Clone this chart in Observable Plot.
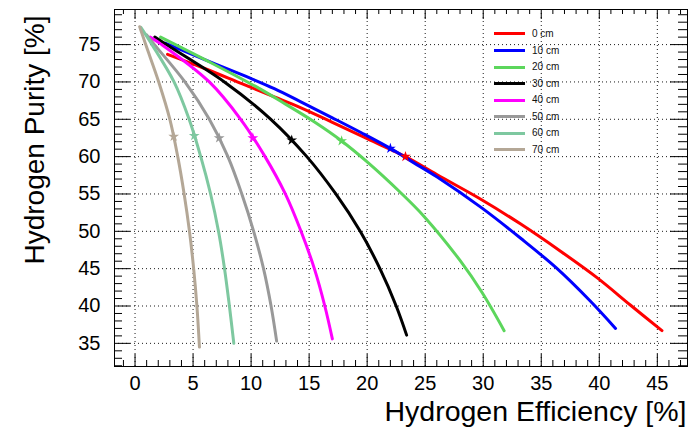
<!DOCTYPE html>
<html><head><meta charset="utf-8">
<script src="https://cdn.jsdelivr.net/npm/d3@7"></script>
<script src="https://cdn.jsdelivr.net/npm/@observablehq/plot@0.6"></script>
<style>
body{margin:0;background:#fff;font-family:"Liberation Sans",Arial,sans-serif}
#wrap{position:relative;width:688px;height:430px}
#legend{position:absolute;left:494px;top:25.7px}
.row{display:flex;align-items:center;height:16.57px}
.sw{width:31px;height:3px;margin-right:7px}
.lab{font-size:10px;color:#111;line-height:10px}
</style></head><body><div id="wrap"></div>
<script>
const seriesLabels = ["0 cm","10 cm","20 cm","30 cm","40 cm","50 cm","60 cm","70 cm"];
const seriesColors = ["#ff0000","#0000ff","#5cd65c","#000000","#ff00ff","#999999","#7ec8a0","#b4a796"];

const eff0  = [2.8, 6.0, 9.3, 12.0, 14.2, 17.0, 20.0, 23.3, 26.0, 29.9, 33.2, 36.6, 39.8, 42.7, 45.4];
const pur0  = [73.7, 71.8, 69.7, 68.0, 66.6, 64.6, 62.4, 60.0, 57.6, 54.2, 51.0, 47.4, 43.8, 40.1, 36.7];
const eff10 = [2.6, 6.0, 9.3, 12.0, 14.2, 17.0, 19.5, 22.0, 24.0, 26.0, 29.9, 33.2, 36.3, 39.2, 41.4];
const pur10 = [75.2, 73.0, 70.9, 69.1, 67.4, 65.2, 63.2, 61.1, 59.2, 57.3, 53.1, 49.1, 45.1, 40.7, 37.0];
const eff20 = [2.2, 6.5, 10.5, 13.0, 15.4, 17.8, 20.0, 22.8, 24.9, 28.0, 29.9, 31.8];
const pur20 = [76.0, 72.6, 69.3, 67.0, 64.7, 62.1, 59.3, 55.3, 52.0, 46.1, 41.8, 36.7];
const eff30 = [1.7, 2.7, 7.7, 11.7, 14.8, 17.3, 19.4, 21.1, 22.5, 23.4];
const pur30 = [76.0, 75.0, 70.0, 65.0, 60.0, 55.0, 50.0, 45.0, 40.0, 36.1];
const eff40 = [1.3, 2.3, 6.4, 9.1, 11.2, 12.95, 14.3, 15.45, 16.35, 17.0];
const pur40 = [76.0, 75.0, 70.0, 65.0, 60.0, 55.0, 50.0, 45.0, 40.0, 35.6];
const eff50 = [1.0, 1.67, 4.3, 6.4, 8.0, 9.2, 10.22, 11.07, 11.72, 12.2];
const pur50 = [76.3, 75.0, 70.0, 65.0, 60.0, 55.0, 50.0, 45.0, 40.0, 35.3];
const eff60 = [0.5, 1.46, 3.36, 4.66, 5.66, 6.51, 7.19, 7.71, 8.13, 8.51];
const pur60 = [77.3, 75.0, 70.0, 65.0, 60.0, 55.0, 50.0, 45.0, 40.0, 35.0];
const eff70 = [0.4, 0.92, 2.04, 3.0, 3.68, 4.23, 4.69, 5.05, 5.33, 5.55];
const pur70 = [77.4, 75.0, 70.0, 65.0, 60.0, 55.0, 50.0, 45.0, 40.0, 34.5];

const starEff = [23.3, 22.0, 17.8, 13.5, 10.15, 7.25, 5.1, 3.33];
const starPur = [60.0, 61.1, 62.1, 62.2, 62.5, 62.5, 62.8, 62.7];

const xTicks = [0, 5, 10, 15, 20, 25, 30, 35, 40, 45];
const xTickLabels = ["0","5","10","15","20","25","30","35","40","45"];
const yTicks = [35, 40, 45, 50, 55, 60, 65, 70, 75];
const yTickLabels = ["35","40","45","50","55","60","65","70","75"];
const xTitle = "Hydrogen Efficiency [%]";
const yTitle = "Hydrogen Purity [%]";

const effs = [eff0, eff10, eff20, eff30, eff40, eff50, eff60, eff70];
const purs = [pur0, pur10, pur20, pur30, pur40, pur50, pur60, pur70];
const lineData = effs.flatMap((e, s) => e.map((v, i) => ({s, x: v, y: purs[s][i]})));
const starData = starEff.map((v, s) => ({s, x: v, y: starPur[s]}));
const xMinor = d3.range(-1, 48).filter(v => v % 5 !== 0);
const yMinor = d3.range(32, 80).filter(v => v % 5 !== 0);

const W = 688, H = 430, mL = 114, mR = 1, mT = 9, mB = 64;
const fh = H - mT - mB, fw = W - mL - mR;
const font = "Liberation Sans, Arial, sans-serif";

const grid = {stroke: "#000", strokeWidth: 1, strokeDasharray: "1,3", strokeOpacity: 0.9};
const tk = {stroke: "#000", strokeWidth: 1};

const chart = Plot.plot({
  width: W, height: H, marginLeft: mL, marginRight: mR, marginTop: mT, marginBottom: mB,
  x: {domain: [-1.77, 47.6], axis: null},
  y: {domain: [31.9, 79.7], axis: null},
  style: {fontFamily: font, background: "#fff", color: "#000"},
  marks: [
    Plot.ruleX(xTicks, {x: d => d, ...grid}),
    Plot.ruleY(yTicks, {y: d => d, ...grid}),
    ...effs.map((e, s) => Plot.line(lineData.filter(d => d.s === s), {
      x: "x", y: "y", stroke: seriesColors[s], strokeWidth: 3, curve: "catmull-rom"
    })),
    Plot.dot(starData, {x: "x", y: "y", symbol: "star", r: 3.4, fill: d => seriesColors[d.s], stroke: null}),
    Plot.frame({stroke: "#000", strokeWidth: 1}),
    // bottom ticks
    Plot.ruleX(xTicks, {x: d => d, insetTop: fh - 12, ...tk}),
    Plot.ruleX(xMinor, {x: d => d, insetTop: fh - 6, ...tk}),
    // top ticks
    Plot.ruleX(xTicks, {x: d => d, insetBottom: fh - 10, ...tk}),
    Plot.ruleX(xMinor, {x: d => d, insetBottom: fh - 5, ...tk}),
    // left ticks
    Plot.ruleY(yTicks, {y: d => d, insetRight: fw - 16, ...tk}),
    Plot.ruleY(yMinor, {y: d => d, insetRight: fw - 8, ...tk}),
    // right ticks
    Plot.ruleY(yTicks, {y: d => d, insetLeft: fw - 17, ...tk}),
    Plot.ruleY(yMinor, {y: d => d, insetLeft: fw - 9, ...tk}),
    // tick labels
    Plot.text(xTicks, {x: d => d, text: (d, i) => xTickLabels[i], frameAnchor: "bottom", dy: 23.5, fontSize: 20, fill: "#000"}),
    Plot.text(yTicks, {y: d => d, text: (d, i) => yTickLabels[i], frameAnchor: "left", dx: -14, textAnchor: "end", fontSize: 20, fill: "#000"}),
    // titles
    Plot.text([xTitle], {text: d => d, frameAnchor: "bottom-right", dx: -1, dy: 54, lineAnchor: "bottom", textAnchor: "end", fontSize: 28.5, fill: "#000"}),
    Plot.text([yTitle], {text: d => d, frameAnchor: "top-left", dx: -90, dy: 6, rotate: -90, textAnchor: "end", fontSize: 28, fill: "#000"})
  ]
});

const wrap = document.getElementById("wrap");
wrap.appendChild(chart);
const legend = document.createElement("div");
legend.id = "legend";
seriesLabels.forEach((lab, i) => {
  const row = document.createElement("div");
  row.className = "row";
  const sw = document.createElement("div");
  sw.className = "sw";
  sw.style.background = seriesColors[i];
  const t = document.createElement("span");
  t.className = "lab";
  t.textContent = lab;
  row.appendChild(sw); row.appendChild(t);
  legend.appendChild(row);
});
wrap.appendChild(legend);
</script></body></html>
